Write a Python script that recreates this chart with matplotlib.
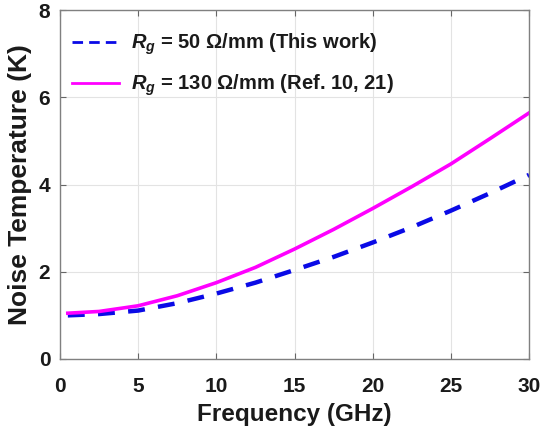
import matplotlib
matplotlib.use("Agg")
import matplotlib.pyplot as plt

# values
freq = [0.5, 2.5, 5, 7.5, 10, 12.5, 15, 17.5, 20, 22.5, 25, 27.5, 30]
t_rg50 = [1.00, 1.03, 1.11, 1.28, 1.50, 1.75, 2.04, 2.34, 2.67, 3.02, 3.40, 3.80, 4.22]
t_rg130 = [1.05, 1.09, 1.22, 1.45, 1.75, 2.10, 2.52, 2.97, 3.45, 3.95, 4.47, 5.05, 5.64]

plt.rcParams['font.family'] = ['Liberation Sans', 'DejaVu Sans']
plt.rcParams['font.weight'] = 'bold'
plt.rcParams['mathtext.fontset'] = 'custom'
plt.rcParams['mathtext.rm'] = 'Liberation Sans:bold'
plt.rcParams['mathtext.it'] = 'Liberation Sans:italic:bold'
plt.rcParams['mathtext.bf'] = 'Liberation Sans:bold'
plt.rcParams['mathtext.bfit'] = 'Liberation Sans:italic:bold'
txt = "#1a1a1a"

fig = plt.figure(figsize=(5.42, 4.33), dpi=100)
ax = fig.add_axes([60 / 542, 1 - 359 / 433, 469 / 542, 349 / 433])

ax.plot(freq, t_rg50, color="#0a0ae6", lw=3.2, linestyle=(0, (3.8, 3.0)),
        label=r"$\boldsymbol{R_g}$ = 50 Ω/mm (This work)")
ax.plot(freq, t_rg130, color="#ff00ff", lw=2.6,
        label=r"$\boldsymbol{R_g}$ = 130 Ω/mm (Ref. 10, 21)")

ax.set_xlim(0, 30)
ax.set_ylim(0, 8)
ax.set_xticks([0, 5, 10, 15, 20, 25, 30])
ax.set_yticks([0, 2, 4, 6, 8])
ax.grid(True, color="#e3e3e3", lw=0.8)
ax.tick_params(direction="in", length=4, color="#666666", labelsize=15,
               labelcolor=txt, top=True, right=True)
ax.tick_params(axis="x", pad=13)
ax.tick_params(axis="y", pad=7)
for s in ax.spines.values():
    s.set_color("#808080")
    s.set_linewidth(1.0)

ax.set_xlabel("Frequency (GHz)", fontsize=17.5, fontweight="bold", labelpad=5, color=txt)
ax.set_ylabel("Noise Temperature (K)", fontsize=19, fontweight="bold", labelpad=5, color=txt)

leg = ax.legend(loc="upper left", bbox_to_anchor=(0.026, 0.937), frameon=False,
                fontsize=14.5, handlelength=2.3, borderaxespad=0, borderpad=0,
                labelspacing=0.75, handletextpad=0.6)
for t in leg.get_texts():
    t.set_color(txt)
lines = leg.get_lines()
for ln in lines:
    ln.set_linewidth(2.0)
lines[0].set_dashes([3.8, 2.2])

fig.savefig("out.png", dpi=100)
